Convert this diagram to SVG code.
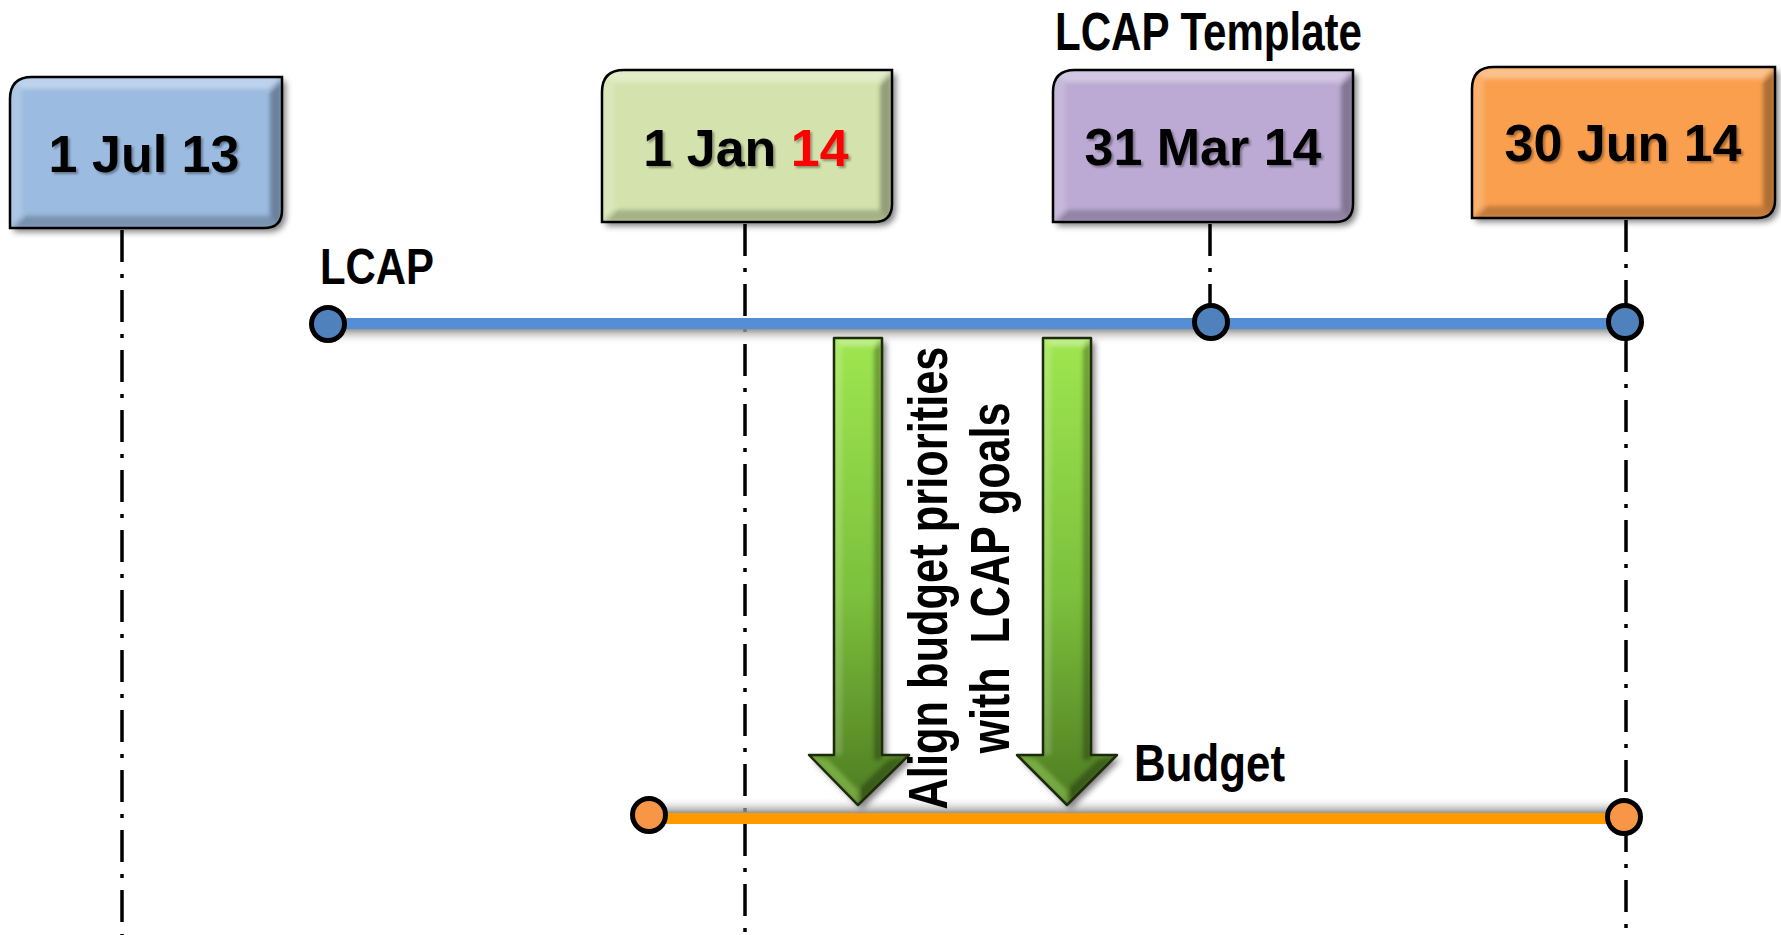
<svg xmlns="http://www.w3.org/2000/svg" width="1781" height="935" viewBox="0 0 1781 935">
<defs>
<style>
.t{font-family:"Liberation Sans",Arial,sans-serif;font-weight:bold;fill:#000}
.bt{font-size:52px;text-anchor:middle}
.dash{stroke:#000;stroke-width:3.5;stroke-dasharray:32 12 4 12;fill:none}
.outline{fill:none;stroke:#000;stroke-width:2.5}
.hl{fill:#fff;opacity:.35}
.hl2{fill:#fff;opacity:.18}
.dk{fill:#000;opacity:.3}
.dk2{fill:#000;opacity:.22}
.node-blue{fill:#4f81bd;stroke:#000;stroke-width:5}
.node-orange{fill:#f79646;stroke:#000;stroke-width:5}
</style>
<filter id="shadow" x="-20%" y="-20%" width="140%" height="140%">
<feGaussianBlur in="SourceAlpha" stdDeviation="3"/>
<feOffset dx="4" dy="4"/>
<feComponentTransfer><feFuncA type="linear" slope="0.5"/></feComponentTransfer>
<feMerge><feMergeNode/><feMergeNode in="SourceGraphic"/></feMerge>
</filter>
<filter id="soft" x="-10%" y="-10%" width="120%" height="120%"><feGaussianBlur stdDeviation="2"/></filter>
<filter id="tsh" x="-10%" y="-10%" width="120%" height="130%"><feDropShadow dx="2" dy="2" stdDeviation="1" flood-opacity="0.35"/></filter>
<linearGradient id="gGreen" x1="0" y1="0" x2="0" y2="1">
<stop offset="0" stop-color="#9fe650"/>
<stop offset="0.55" stop-color="#7cc03c"/>
<stop offset="1" stop-color="#4e7c22"/>
</linearGradient>
<linearGradient id="shDown" x1="0" y1="0" x2="0" y2="1">
<stop offset="0" stop-color="#888" stop-opacity="0.9"/>
<stop offset="1" stop-color="#fff" stop-opacity="0"/>
</linearGradient>
<linearGradient id="shUp" x1="0" y1="1" x2="0" y2="0">
<stop offset="0" stop-color="#888" stop-opacity="0.9"/>
<stop offset="1" stop-color="#fff" stop-opacity="0"/>
</linearGradient>
<clipPath id="c1"><path d="M0,22 Q0,0 22,0 L272,0 L272,133 Q272,151 254,151 L0,151 Z"/></clipPath>
<clipPath id="c2"><path d="M0,22 Q0,0 22,0 L290,0 L290,134 Q290,152 272,152 L0,152 Z"/></clipPath>
<clipPath id="c3"><path d="M0,22 Q0,0 22,0 L300,0 L300,134 Q300,152 282,152 L0,152 Z"/></clipPath>
<clipPath id="c4"><path d="M0,22 Q0,0 22,0 L303,0 L303,133 Q303,151 285,151 L0,151 Z"/></clipPath>
<clipPath id="a1"><path d="M834,338 L882,338 L882,755 L909,755 L858,805 L809,755 L834,755 Z"/></clipPath>
<clipPath id="a2"><path d="M1043,338 L1091,338 L1091,755 L1117,755 L1067,805 L1017,755 L1043,755 Z"/></clipPath>
</defs>
<rect width="1781" height="935" fill="#fff"/>

<g id="connectors">
<line class="dash" x1="122" y1="230" x2="122" y2="935"/>
<line class="dash" x1="745" y1="224" x2="745" y2="935"/>
<line class="dash" x1="1210" y1="224" x2="1210" y2="305"/>
<line class="dash" x1="1626" y1="220" x2="1626" y2="935"/>
<!-- LCAP bar -->
<rect x="330" y="329" width="1295" height="16" fill="url(#shDown)"/>
<rect x="328" y="318" width="1297" height="11" fill="#558ed5"/>
<!-- Budget bar -->
<rect x="649" y="797" width="975" height="16" fill="url(#shUp)"/>
<rect x="649" y="813" width="975" height="11" fill="#ff9900"/>
</g>

<g id="lcap-label"><text class="t" x="320" y="284" font-size="50" textLength="114" lengthAdjust="spacingAndGlyphs">LCAP</text></g>
<g id="lcap-template-label"><text class="t" x="1055" y="50" font-size="53" textLength="307" lengthAdjust="spacingAndGlyphs">LCAP Template</text></g>
<g id="budget-label"><text class="t" x="1134" y="781" font-size="52" textLength="151" lengthAdjust="spacingAndGlyphs">Budget</text></g>

<g id="node-lcap-start"><circle class="node-blue" cx="328" cy="324" r="16.5"/></g>
<g id="node-lcap-mar"><circle class="node-blue" cx="1211" cy="322" r="16.5"/></g>
<g id="node-lcap-end"><circle class="node-blue" cx="1625" cy="322" r="16.5"/></g>
<g id="node-budget-start"><circle class="node-orange" cx="649" cy="815" r="16.5"/></g>
<g id="node-budget-end"><circle class="node-orange" cx="1624" cy="817" r="16.5"/></g>

<g id="box-jul13" transform="translate(10,77)">
<path filter="url(#shadow)" d="M0,22 Q0,0 22,0 L272,0 L272,133 Q272,151 254,151 L0,151 Z" fill="#9bbbe0"/>
<g clip-path="url(#c1)"><g filter="url(#soft)">
<polygon class="hl" points="0,0 272,0 260,12 12,12"/>
<polygon class="hl2" points="0,0 12,12 12,139 0,151"/>
<polygon class="dk" points="272,0 272,151 260,139 260,12"/>
<polygon class="dk2" points="0,151 272,151 260,139 12,139"/>
</g></g>
<path class="outline" d="M0,22 Q0,0 22,0 L272,0 L272,133 Q272,151 254,151 L0,151 Z"/>
<text class="t bt" x="134" y="95" filter="url(#tsh)">1 Jul 13</text>
</g>

<g id="box-jan14" transform="translate(602,70)">
<path filter="url(#shadow)" d="M0,22 Q0,0 22,0 L290,0 L290,134 Q290,152 272,152 L0,152 Z" fill="#d4e3ad"/>
<g clip-path="url(#c2)"><g filter="url(#soft)">
<polygon class="hl" points="0,0 290,0 278,12 12,12"/>
<polygon class="hl2" points="0,0 12,12 12,140 0,152"/>
<polygon class="dk" points="290,0 290,152 278,140 278,12"/>
<polygon class="dk2" points="0,152 290,152 278,140 12,140"/>
</g></g>
<path class="outline" d="M0,22 Q0,0 22,0 L290,0 L290,134 Q290,152 272,152 L0,152 Z"/>
<text class="t bt" x="144" y="96" filter="url(#tsh)">1 Jan <tspan fill="#ff0000">14</tspan></text>
</g>

<g id="box-mar14" transform="translate(1053,70)">
<path filter="url(#shadow)" d="M0,22 Q0,0 22,0 L300,0 L300,134 Q300,152 282,152 L0,152 Z" fill="#bcaad4"/>
<g clip-path="url(#c3)"><g filter="url(#soft)">
<polygon class="hl" points="0,0 300,0 288,12 12,12"/>
<polygon class="hl2" points="0,0 12,12 12,140 0,152"/>
<polygon class="dk" points="300,0 300,152 288,140 288,12"/>
<polygon class="dk2" points="0,152 300,152 288,140 12,140"/>
</g></g>
<path class="outline" d="M0,22 Q0,0 22,0 L300,0 L300,134 Q300,152 282,152 L0,152 Z"/>
<text class="t bt" x="150" y="95" filter="url(#tsh)">31 Mar 14</text>
</g>

<g id="box-jun14" transform="translate(1472,67)">
<path filter="url(#shadow)" d="M0,22 Q0,0 22,0 L303,0 L303,133 Q303,151 285,151 L0,151 Z" fill="#fa9f4e"/>
<g clip-path="url(#c4)"><g filter="url(#soft)">
<polygon class="hl" points="0,0 303,0 291,12 12,12"/>
<polygon class="hl2" points="0,0 12,12 12,139 0,151"/>
<polygon class="dk" points="303,0 303,151 291,139 291,12"/>
<polygon class="dk2" points="0,151 303,151 291,139 12,139"/>
</g></g>
<path class="outline" d="M0,22 Q0,0 22,0 L303,0 L303,133 Q303,151 285,151 L0,151 Z"/>
<text class="t bt" x="151" y="94" filter="url(#tsh)">30 Jun 14</text>
</g>

<g id="arrow-1">
<path filter="url(#shadow)" d="M834,338 L882,338 L882,755 L909,755 L858,805 L809,755 L834,755 Z" fill="url(#gGreen)"/>
<g clip-path="url(#a1)"><g filter="url(#soft)">
<polygon class="hl" points="834,338 882,338 874,346 842,346"/>
<polygon class="hl2" points="834,338 842,346 842,755 834,755"/>
<polygon class="dk" points="882,338 882,760 874,760 874,346"/>
<polygon fill="#bdf07a" opacity=".35" points="809,755 858,805 858,790 828,760"/>
<polygon class="dk" points="909,755 858,805 858,790 888,760"/>
</g></g>
<path d="M834,338 L882,338 L882,755 L909,755 L858,805 L809,755 L834,755 Z" fill="none" stroke="#1e2a0c" stroke-width="2.5" stroke-linejoin="round"/>
</g>

<g id="arrow-2">
<path filter="url(#shadow)" d="M1043,338 L1091,338 L1091,755 L1117,755 L1067,805 L1017,755 L1043,755 Z" fill="url(#gGreen)"/>
<g clip-path="url(#a2)"><g filter="url(#soft)">
<polygon class="hl" points="1043,338 1091,338 1083,346 1051,346"/>
<polygon class="hl2" points="1043,338 1051,346 1051,755 1043,755"/>
<polygon class="dk" points="1091,338 1091,760 1083,760 1083,346"/>
<polygon fill="#bdf07a" opacity=".35" points="1017,755 1067,805 1067,790 1036,760"/>
<polygon class="dk" points="1117,755 1067,805 1067,790 1097,760"/>
</g></g>
<path d="M1043,338 L1091,338 L1091,755 L1117,755 L1067,805 L1017,755 L1043,755 Z" fill="none" stroke="#1e2a0c" stroke-width="2.5" stroke-linejoin="round"/>
</g>

<g id="align-label">
<text class="t" transform="translate(947,578) rotate(-90)" x="0" y="0" font-size="55" text-anchor="middle" textLength="463" lengthAdjust="spacingAndGlyphs">Align budget priorities</text>
<text class="t" transform="translate(1009,578) rotate(-90)" x="0" y="0" font-size="55" text-anchor="middle" textLength="351" lengthAdjust="spacingAndGlyphs" xml:space="preserve">with  LCAP goals</text>
</g>
</svg>
